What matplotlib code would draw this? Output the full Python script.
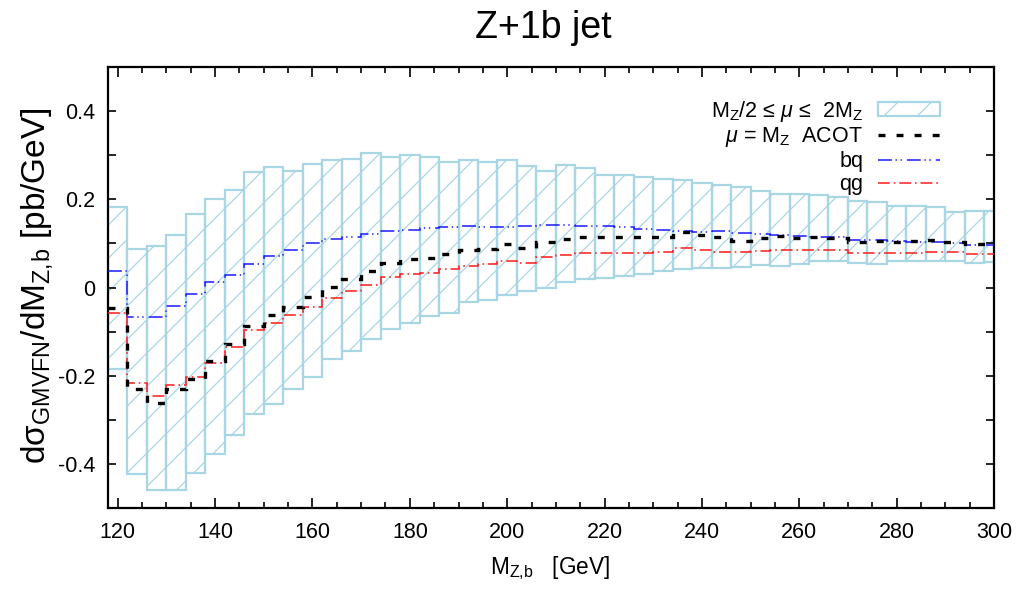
import matplotlib
matplotlib.use("Agg")
import matplotlib.pyplot as plt
from matplotlib.ticker import MultipleLocator, FixedLocator
from matplotlib.patches import Patch
from matplotlib.lines import Line2D

plt.rcParams['font.family'] = ['Liberation Sans', 'DejaVu Sans']
plt.rcParams['mathtext.fontset'] = 'custom'
plt.rcParams['mathtext.rm'] = 'Liberation Sans'
plt.rcParams['mathtext.it'] = 'Liberation Sans:italic'
plt.rcParams['mathtext.sf'] = 'Liberation Sans'
plt.rcParams['lines.scale_dashes'] = False
plt.rcParams['hatch.linewidth'] = 0.9

# ---- data -------------------------------------------------------------
bin_edges = [118, 122, 126, 130, 134, 138, 142, 146, 150, 154, 158, 162, 166,
             170, 174, 178, 182, 186, 190, 194, 198, 202, 206, 210, 214, 218,
             222, 226, 230, 234, 238, 242, 246, 250, 254, 258, 262, 266, 270,
             274, 278, 282, 286, 290, 294, 298, 302]

band_upper = [0.182, 0.087, 0.095, 0.119, 0.166, 0.200, 0.222, 0.263, 0.273,
              0.265, 0.279, 0.288, 0.291, 0.305, 0.295, 0.301, 0.296, 0.284,
              0.288, 0.285, 0.290, 0.276, 0.265, 0.277, 0.272, 0.254, 0.256,
              0.250, 0.247, 0.244, 0.238, 0.232, 0.229, 0.218, 0.212, 0.212,
              0.210, 0.206, 0.197, 0.194, 0.184, 0.184, 0.182, 0.172, 0.173,
              0.174]

band_lower = [-0.184, -0.422, -0.459, -0.459, -0.421, -0.378, -0.335, -0.286,
              -0.265, -0.230, -0.203, -0.163, -0.143, -0.116, -0.093, -0.080,
              -0.065, -0.058, -0.034, -0.029, -0.018, -0.008, 0.000, 0.013,
              0.020, 0.022, 0.027, 0.030, 0.038, 0.041, 0.044, 0.044, 0.046,
              0.051, 0.049, 0.053, 0.059, 0.059, 0.055, 0.053, 0.059, 0.059,
              0.059, 0.059, 0.056, 0.058]

acot = [-0.047, -0.230, -0.262, -0.231, -0.208, -0.166, -0.129, -0.087,
        -0.063, -0.045, -0.021, 0.002, 0.019, 0.038, 0.056, 0.064, 0.066,
        0.075, 0.084, 0.088, 0.099, 0.089, 0.103, 0.109, 0.114, 0.114, 0.114,
        0.114, 0.114, 0.125, 0.119, 0.115, 0.106, 0.112, 0.116, 0.112, 0.114,
        0.112, 0.103, 0.105, 0.103, 0.106, 0.108, 0.103, 0.098, 0.098]

bq = [0.038, -0.068, -0.068, -0.042, -0.014, 0.013, 0.029, 0.053, 0.071,
      0.085, 0.100, 0.109, 0.114, 0.122, 0.127, 0.131, 0.134, 0.138, 0.140,
      0.138, 0.138, 0.139, 0.141, 0.142, 0.140, 0.139, 0.137, 0.133, 0.131,
      0.129, 0.126, 0.127, 0.123, 0.121, 0.120, 0.117, 0.114, 0.114, 0.108,
      0.108, 0.106, 0.104, 0.104, 0.101, 0.097, 0.097]

qg = [-0.057, -0.217, -0.246, -0.222, -0.203, -0.171, -0.134, -0.097, -0.080,
      -0.062, -0.045, -0.024, -0.007, 0.006, 0.024, 0.031, 0.034, 0.041,
      0.048, 0.054, 0.061, 0.056, 0.070, 0.073, 0.079, 0.079, 0.079, 0.079,
      0.080, 0.090, 0.085, 0.080, 0.080, 0.083, 0.084, 0.085, 0.085, 0.085,
      0.078, 0.078, 0.079, 0.079, 0.080, 0.080, 0.076, 0.076]

x_ticks = [120, 140, 160, 180, 200, 220, 240, 260, 280, 300]
y_ticks = [-0.4, -0.2, 0.0, 0.2, 0.4]
y_tick_labels = ['-0.4', '-0.2', '0', '0.2', '0.4']

labels = [r'M$_{\rm Z}$/2 ≤ $\mathit{\mu}$ ≤  2M$_{\rm Z}$',
          r'$\mathit{\mu}$ = M$_{\rm Z}$  ACOT',
          'bq', 'qg']

# ---- figure -----------------------------------------------------------
fig = plt.figure(figsize=(10.24, 5.91), dpi=100)
ax = fig.add_axes([108 / 1024, 1 - 508 / 591, 886 / 1024, 441 / 591])

band_col = '#a9d6e5'
lefts = bin_edges[:-1]
widths = [b - a for a, b in zip(bin_edges[:-1], bin_edges[1:])]
heights = [u - l for u, l in zip(band_upper, band_lower)]
ax.bar(lefts, heights, width=widths, bottom=band_lower, align='edge',
       fill=False, edgecolor=band_col, hatch='/', linewidth=1.6, zorder=1)

acot_ls = (0, (5.0, 8.0))
bq_ls = (0, (10, 2.6, 1.0, 2.6, 1.0, 3.6))
qg_ls = (0, (8.5, 2.8, 1.2, 2.8))

ax.stairs(acot, bin_edges, baseline=None, color='black',
          linewidth=2.4, linestyle=acot_ls, zorder=4)
ax.stairs(bq, bin_edges, baseline=None, color='#1a1aff',
          linewidth=1.1, linestyle=bq_ls, zorder=3)
ax.stairs(qg, bin_edges, baseline=None, color='#ff1a1a',
          linewidth=1.1, linestyle=qg_ls, zorder=3)

ax.set_xlim(118, 300)
ax.set_ylim(-0.5, 0.5)

ax.xaxis.set_major_locator(FixedLocator(x_ticks))
ax.xaxis.set_minor_locator(MultipleLocator(5))
ax.yaxis.set_major_locator(FixedLocator(y_ticks))
ax.yaxis.set_minor_locator(MultipleLocator(0.1))
ax.set_yticklabels(y_tick_labels)

ax.tick_params(which='both', direction='in', top=True, right=True,
               width=1.2, labelsize=15.5, color='black')
ax.tick_params(axis='x', which='major', length=7.5, pad=10)
ax.tick_params(axis='x', which='minor', length=4)
ax.tick_params(axis='y', which='major', length=6, pad=9)
ax.tick_params(axis='y', which='minor', length=6)
for s in ax.spines.values():
    s.set_linewidth(1.6)

# legend
band_handle = Patch(facecolor='none', edgecolor=band_col, hatch='/',
                    linewidth=1.6)
h_acot = Line2D([], [], color='black', linewidth=2.4, linestyle=acot_ls)
h_bq = Line2D([], [], color='#1a1aff', linewidth=1.1, linestyle=bq_ls)
h_qg = Line2D([], [], color='#ff1a1a', linewidth=1.1, linestyle=qg_ls)
leg = ax.legend([band_handle, h_acot, h_bq, h_qg], labels,
                loc='upper right', bbox_to_anchor=(0.958, 0.967),
                markerfirst=False, frameon=False, fontsize=15.5,
                handlelength=2.85, handleheight=0.6, labelspacing=0.08,
                handletextpad=0.7, borderpad=0.3)

fig.text(543 / 1024, 1 - 28 / 591, 'Z+1b jet', ha='center', va='center',
         fontsize=27)
fig.text(37 / 1024, 1 - 286 / 591,
         r'dσ$_{\rm GMVFN}$/dM$_{\rm Z,\!b}$ [pb/GeV]',
         rotation=90, ha='center', va='center', fontsize=24)
fig.text(550 / 1024, 1 - 568 / 591, r'M$_{\rm Z,\!b}$   [GeV]',
         ha='center', va='center', fontsize=16.3)

fig.savefig('out.png', dpi=100)
